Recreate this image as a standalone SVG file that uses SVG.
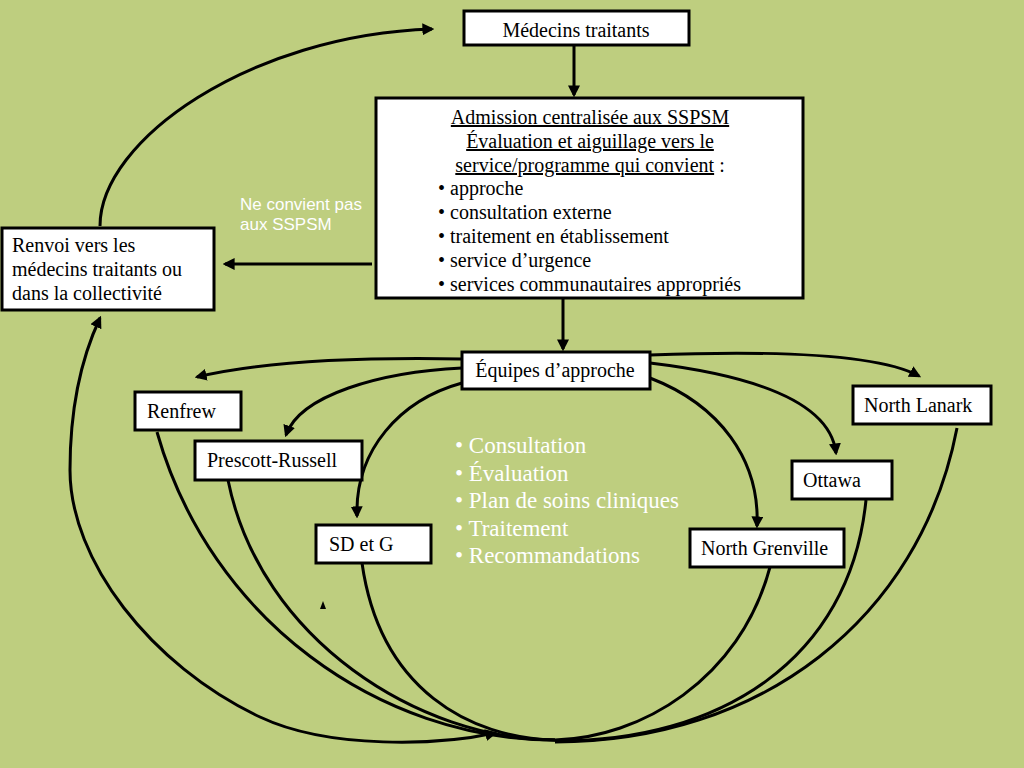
<svg xmlns="http://www.w3.org/2000/svg" width="1024" height="768" viewBox="0 0 1024 768">
<defs>
<style>
.box{fill:#fff;stroke:#000;stroke-width:3}
.t{font-family:"Liberation Serif","Times New Roman",serif;font-size:20px;fill:#000}
.w{font-family:"Liberation Serif","Times New Roman",serif;font-size:23px;fill:#fff}
.s{font-family:"Liberation Sans",Arial,sans-serif;font-size:17px;fill:#fff}
.c{fill:none;stroke:#000;stroke-width:3}
.u{text-decoration:underline}
</style>
<marker id="ah" viewBox="0 0 10 10" refX="8" refY="5" markerWidth="4" markerHeight="4" orient="auto-start-reverse" markerUnits="strokeWidth">
<path d="M0,0 L10,5 L0,10 Z" fill="#000"/>
</marker>
</defs>
<rect width="1024" height="768" fill="#BECE7F"/>
<g id="connectors">
<path class="c" d="M574,46 V95" marker-end="url(#ah)"/>
<path class="c" d="M563,299 V349" marker-end="url(#ah)"/>
<path class="c" d="M372,264 H225" marker-end="url(#ah)"/>
<path class="c" d="M100,226 C100,140 250,35 432,29" marker-end="url(#ah)"/>
<path class="c" d="M495,733 C440,745 330,750 260,717 C150,665 70,560 70,470 C70,400 85,350 100,318" marker-start="url(#ah)" marker-end="url(#ah)"/>
<path class="c" d="M462,359 C350,357 260,362 197,377" marker-end="url(#ah)"/>
<path class="c" d="M462,368 C380,372 300,395 286,435" marker-end="url(#ah)"/>
<path class="c" d="M462,383 C400,400 355,450 357,516" marker-end="url(#ah)"/>
<path class="c" d="M650,355 C780,350 880,355 919,376" marker-end="url(#ah)"/>
<path class="c" d="M650,363 C750,375 830,400 836,453" marker-end="url(#ah)"/>
<path class="c" d="M650,378 C720,405 760,460 757,526" marker-end="url(#ah)"/>
<path class="c" d="M157,432 C210,620 380,740 555,740"/>
<path class="c" d="M228,480 C260,640 420,740 555,740"/>
<path class="c" d="M362,563 C380,690 470,738 555,740"/>
<path class="c" d="M770,567 C740,680 640,738 555,740"/>
<path class="c" d="M866,500 C850,660 720,742 555,741"/>
<path class="c" d="M957,428 C920,620 760,742 555,742"/>
<path d="M320,609 L323,601 L326,609 Z" fill="#000"/>
</g>
<g id="medecins">
<rect class="box" x="464" y="11" width="225" height="34"/>
<text class="t" x="576" y="37" text-anchor="middle">Médecins traitants</text>
</g>
<g id="admission">
<rect class="box" x="376" y="98" width="427" height="200"/>
<text class="t" x="590" y="124" text-anchor="middle"><tspan class="u">Admission centralisée aux SSPSM</tspan></text>
<text class="t" x="590" y="148" text-anchor="middle"><tspan class="u">Évaluation et aiguillage vers le</tspan></text>
<text class="t" x="590" y="172" text-anchor="middle"><tspan class="u">service/programme qui convient</tspan> :</text>
<text class="t"><tspan x="438" y="195">• approche</tspan><tspan x="438" y="219">• consultation externe</tspan><tspan x="438" y="243">• traitement en établissement</tspan><tspan x="438" y="267">• service d’urgence</tspan><tspan x="438" y="291">• services communautaires appropriés</tspan></text>
</g>
<g id="note">
<text class="s"><tspan x="240" y="210">Ne convient pas</tspan><tspan x="240" y="230">aux SSPSM</tspan></text>
</g>
<g id="renvoi">
<rect class="box" x="2" y="228" width="212" height="82"/>
<text class="t"><tspan x="12" y="252">Renvoi vers les</tspan><tspan x="12" y="276">médecins traitants ou</tspan><tspan x="12" y="300">dans la collectivité</tspan></text>
</g>
<g id="equipes">
<rect class="box" x="462" y="352" width="188" height="37"/>
<text class="t" x="555" y="377" text-anchor="middle">Équipes d’approche</text>
</g>
<g id="renfrew">
<rect class="box" x="135" y="392" width="106" height="38"/>
<text class="t" x="147" y="418">Renfrew</text>
</g>
<g id="prescott">
<rect class="box" x="195" y="441" width="167" height="39"/>
<text class="t" x="207" y="467">Prescott-Russell</text>
</g>
<g id="sdg">
<rect class="box" x="316" y="525" width="115" height="38"/>
<text class="t" x="329" y="551">SD et G</text>
</g>
<g id="northlanark">
<rect class="box" x="853" y="386" width="138" height="38"/>
<text class="t" x="864" y="412">North Lanark</text>
</g>
<g id="ottawa">
<rect class="box" x="792" y="461" width="100" height="38"/>
<text class="t" x="803" y="487">Ottawa</text>
</g>
<g id="northgrenville">
<rect class="box" x="690" y="529" width="154" height="38"/>
<text class="t" x="701" y="555">North Grenville</text>
</g>
<g id="services">
<text class="w"><tspan x="455" y="453">• Consultation</tspan><tspan x="455" y="481">• Évaluation</tspan><tspan x="455" y="508">• Plan de soins cliniques</tspan><tspan x="455" y="536">• Traitement</tspan><tspan x="455" y="563">• Recommandations</tspan></text>
</g>
</svg>
